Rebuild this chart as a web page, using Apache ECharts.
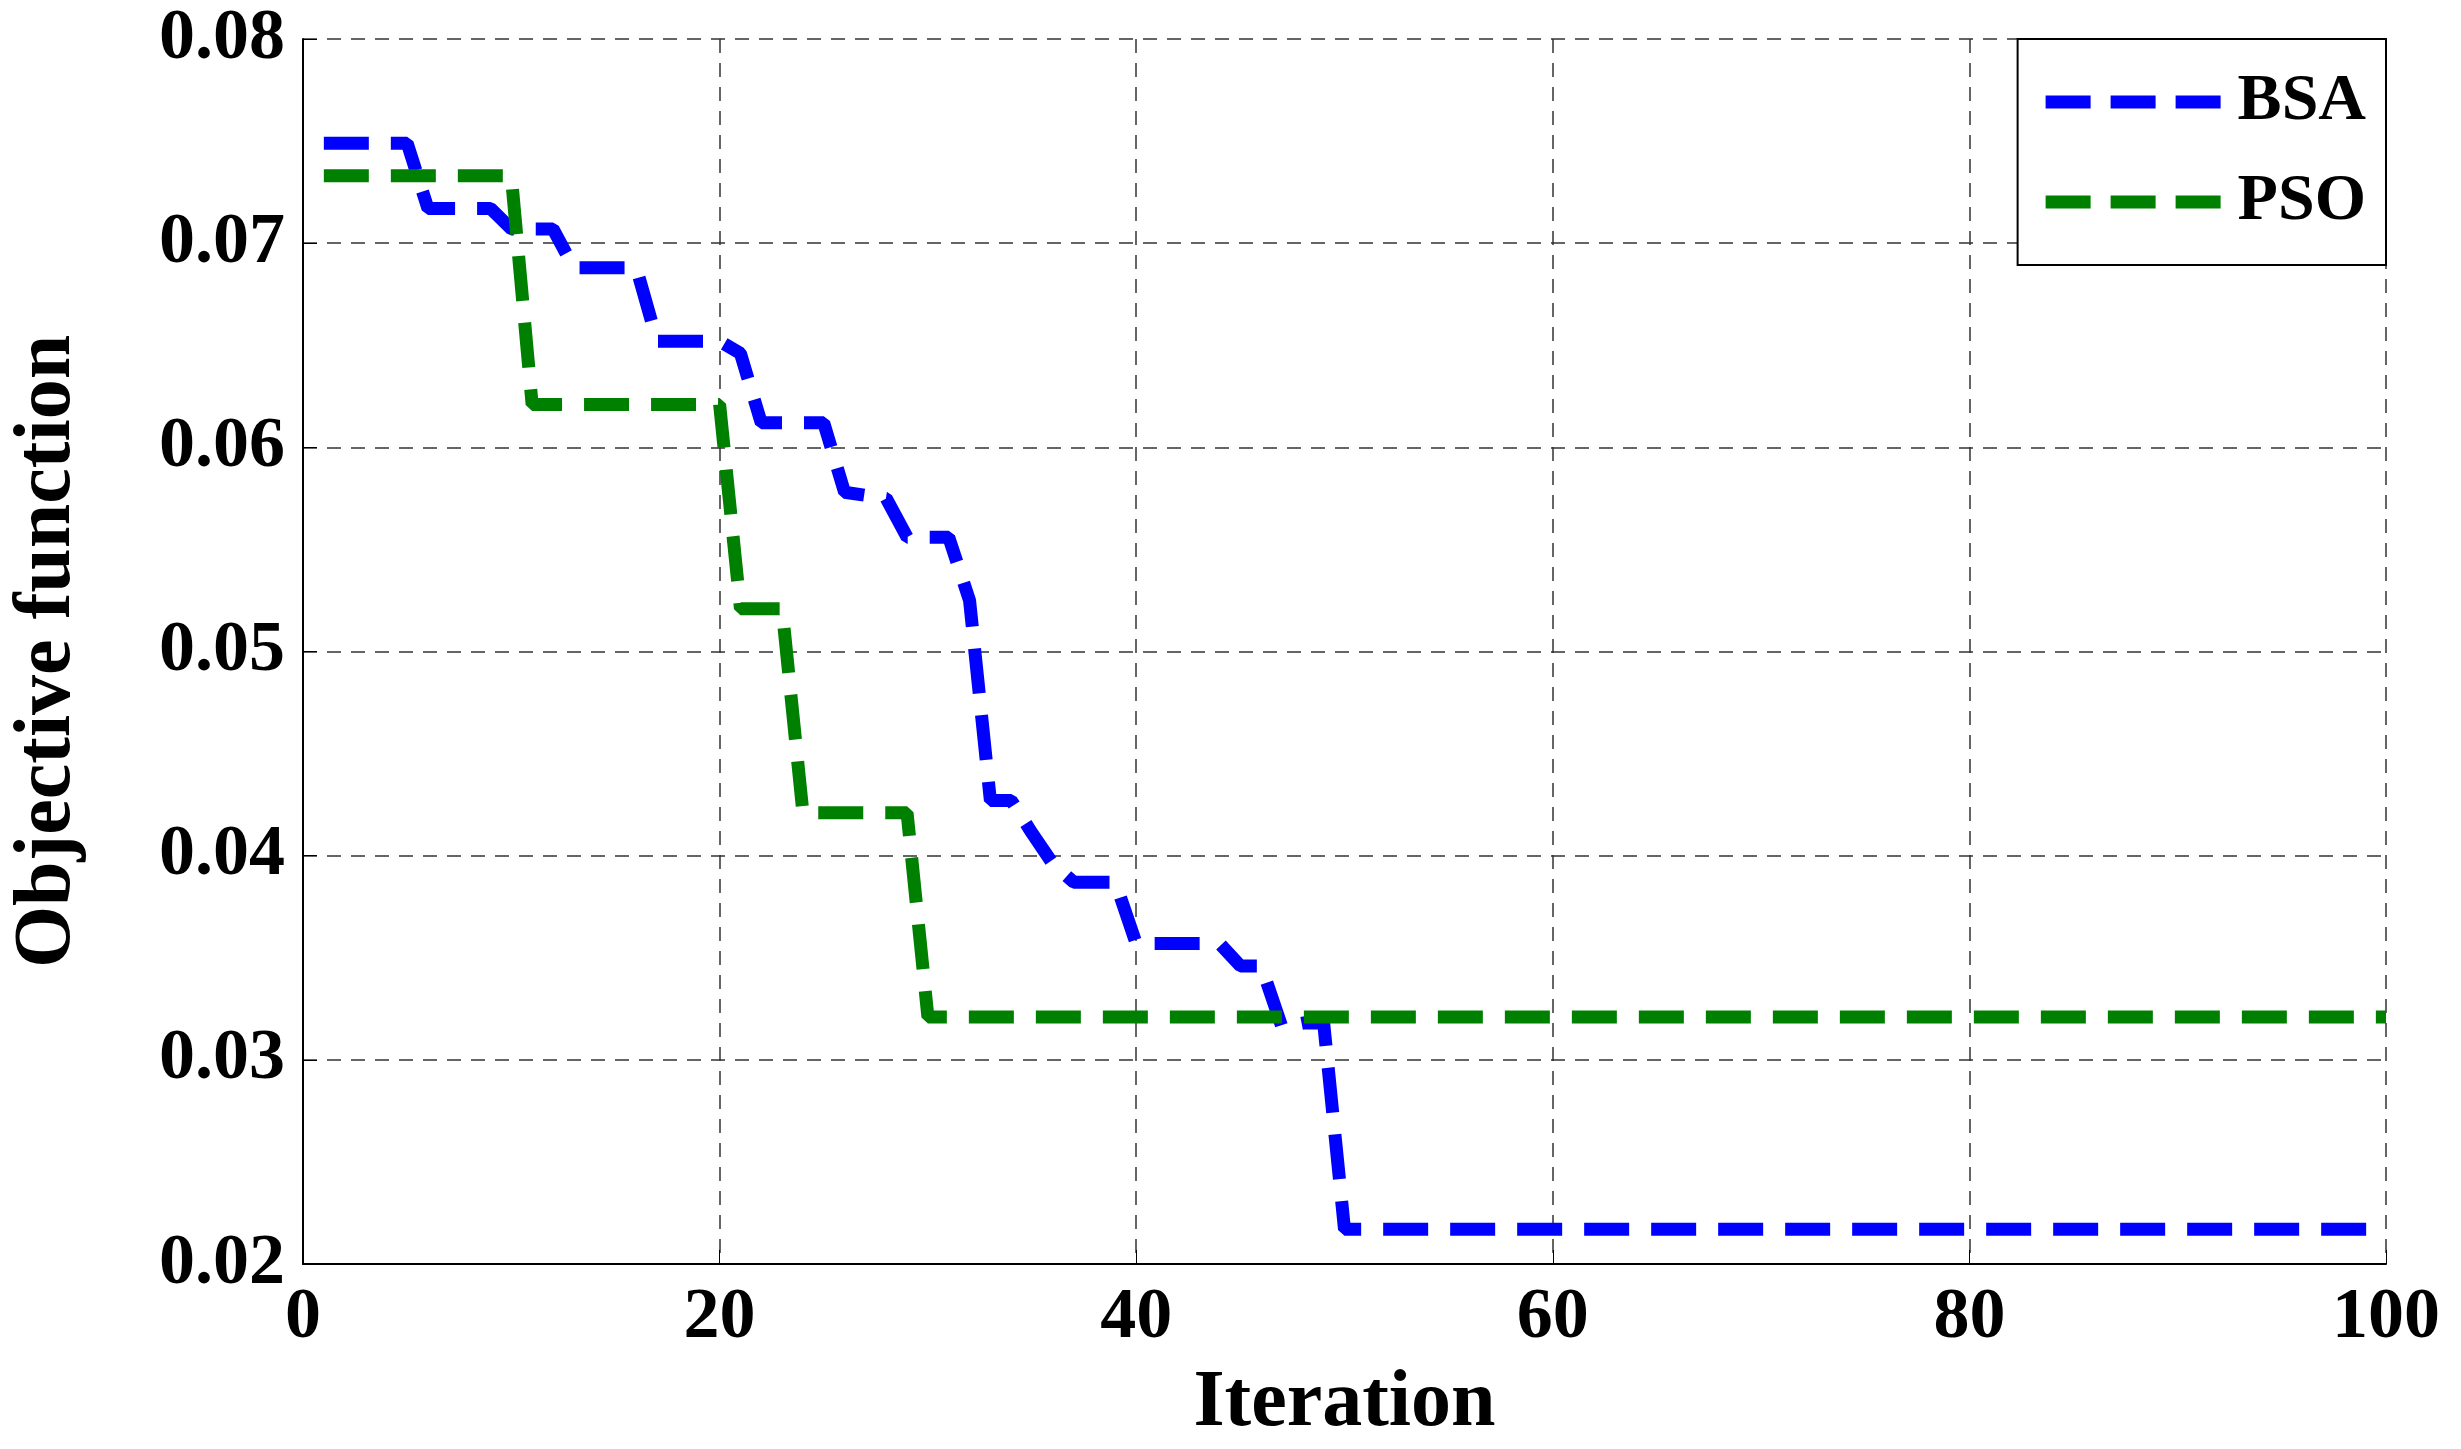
<!DOCTYPE html>
<html>
<head>
<meta charset="utf-8">
<script src="https://cdn.jsdelivr.net/npm/echarts@6/dist/echarts.min.js"></script>
<style>html,body{margin:0;background:#fff}#main{width:2461px;height:1449px}</style>
</head>
<body>
<div id="main"></div>
<script>
var bsaX = [1,5,6,9,10,12,13,16,17,20,21,22,25,26,28,29,31,32,33,34,35,36,37,39,40,44,45,46,47,48,49,50,100];
var bsaY = [.0749,.0749,.0717,.0717,.0707,.0707,.0688,.0688,.0652,.0652,.0646,.0612,.0612,.0578,.0575,.0556,.0556,.0525,.0427,.0427,.0411,.0396,.0387,.0387,.0357,.0357,.0346,.0346,.0316,.0318,.0318,.0217,.0217];
var psoX = [1,10,11,20,21,23,24,29,30,100];
var psoY = [.0733,.0733,.0621,.0621,.0521,.0521,.0421,.0421,.0321,.0321];
var xTicks = [0,20,40,60,80,100];

function pairs(xs, ys) { return xs.map(function (x, i) { return [x, ys[i]]; }); }

var font = 'Liberation Serif';
var dashIcon = 'path://M0,0h45v13h-45z M65,0h45v13h-45z M130,0h45v13h-45z';
var chart = echarts.init(document.getElementById('main'));
var gridLine = { show: true, lineStyle: { color: '#333', type: [14, 10], width: 1.5 } };
chart.setOption({
  animation: false,
  textStyle: { fontFamily: font },
  grid: { left: 287, right: 75, top: 39, bottom: 176 },
  legend: {
    right: 75, top: 39, orient: 'vertical', itemWidth: 175, itemHeight: 13, itemGap: 34,
    padding: [30, 20, 30, 28], borderColor: '#000', borderWidth: 2, backgroundColor: '#fff',
    textStyle: { fontSize: 66, fontWeight: 'bold', fontFamily: font, color: '#000', padding: [0, 0, 0, 12] },
    data: [{ name: 'BSA', icon: dashIcon }, { name: 'PSO', icon: dashIcon }]
  },
  xAxis: {
    type: 'value', min: 0, max: 100, interval: 20,
    name: 'Iteration', nameLocation: 'middle', nameGap: 100,
    nameTextStyle: { fontSize: 80, fontWeight: 'bold', color: '#000' },
    axisLine: { lineStyle: { color: '#000', width: 2 } },
    axisTick: { inside: true, length: 14, lineStyle: { color: '#000' } },
    axisLabel: { fontSize: 72, fontWeight: 'bold', color: '#000', margin: 18,
      formatter: function (v) { return xTicks.indexOf(v) >= 0 ? v : ''; } },
    splitLine: gridLine
  },
  yAxis: {
    type: 'value', min: 0.02, max: 0.08, interval: 0.01,
    name: 'Objective function', nameLocation: 'middle', nameGap: 215,
    nameTextStyle: { fontSize: 80, fontWeight: 'bold', color: '#000' },
    axisLine: { show: true, lineStyle: { color: '#000', width: 2 } },
    axisTick: { inside: true, length: 14, lineStyle: { color: '#000' } },
    axisLabel: { fontSize: 72, fontWeight: 'bold', color: '#000', margin: 18,
      formatter: function (v) { return v.toFixed(2); } },
    splitLine: gridLine
  },
  series: [
    { name: 'BSA', type: 'line', symbol: 'none', data: pairs(bsaX, bsaY),
      itemStyle: { color: '#0000ff' }, lineStyle: { color: '#0000ff', width: 13, type: [45, 22] } },
    { name: 'PSO', type: 'line', symbol: 'none', data: pairs(psoX, psoY),
      itemStyle: { color: '#008000' }, lineStyle: { color: '#008000', width: 13, type: [45, 22] } }
  ]
});
</script>
</body>
</html>
